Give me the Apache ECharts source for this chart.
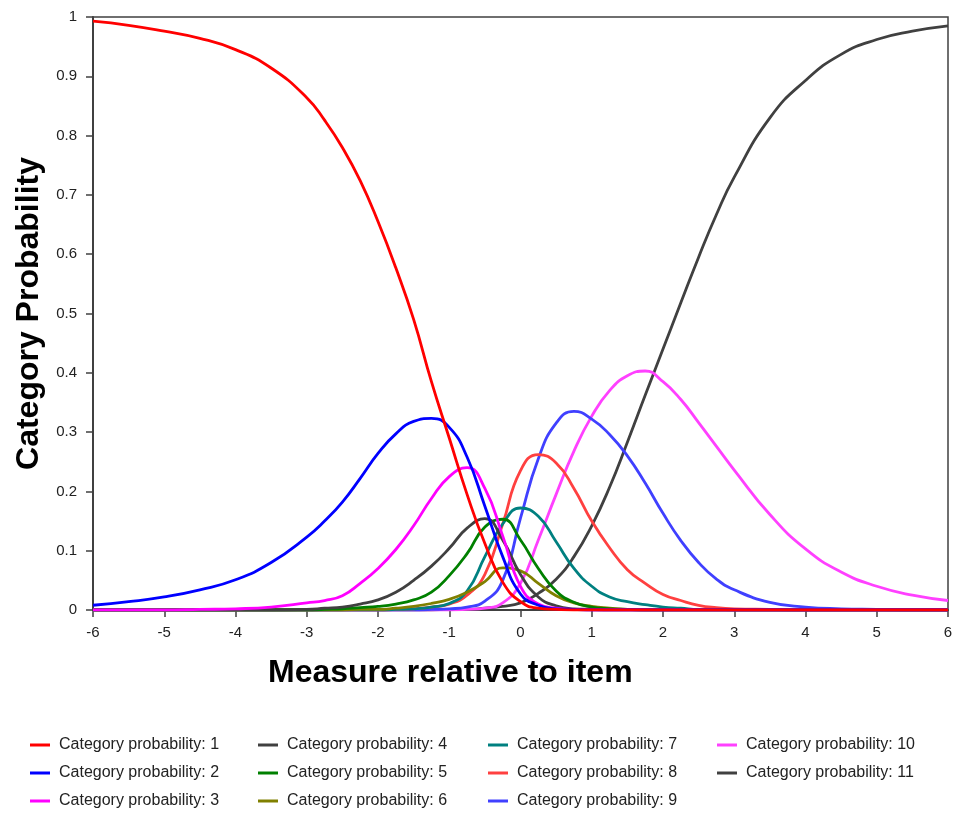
<!DOCTYPE html>
<html>
<head>
<meta charset="utf-8">
<script src="https://cdn.jsdelivr.net/npm/echarts@6/dist/echarts.min.js"></script>
<style>html,body{margin:0;padding:0;background:#fff}#c{width:958px;height:816px}</style>
</head>
<body>
<div id="c"></div>
<script>
var xs = [-6,-5.5,-5,-4.5,-4,-3.5,-3,-2.75,-2.5,-2.25,-2,-1.75,-1.5,-1.25,-1,-0.75,-0.5,-0.25,0,0.25,0.5,0.75,1,1.25,1.5,1.75,2,2.25,2.5,2.75,3,3.5,4,4.5,5,5.5,6];
var cat1 = [0.993,0.986,0.976,0.964,0.945,0.914,0.864,0.826,0.78,0.724,0.655,0.577,0.49,0.385,0.29,0.195,0.112,0.047,0.014,0.003,0.001,0,0,0,0,0,0,0,0,0,0,0,0,0,0,0,0];
var cat2 = [0.008,0.014,0.022,0.034,0.051,0.08,0.123,0.15,0.182,0.222,0.264,0.297,0.318,0.323,0.308,0.258,0.175,0.09,0.027,0.008,0.002,0.001,0,0,0,0,0,0,0,0,0,0,0,0,0,0,0];
var cat3 = [0,0,0,0.001,0.002,0.005,0.012,0.016,0.024,0.045,0.07,0.102,0.142,0.188,0.225,0.24,0.205,0.125,0.04,0.01,0.003,0.001,0,0,0,0,0,0,0,0,0,0,0,0,0,0,0];
var cat4 = [0,0,0,0,0,0,0.001,0.003,0.005,0.01,0.017,0.03,0.05,0.074,0.104,0.138,0.154,0.118,0.06,0.022,0.007,0.002,0.001,0,0,0,0,0,0,0,0,0,0,0,0,0,0];
var cat5 = [0,0,0,0,0,0,0,0.001,0.002,0.004,0.006,0.01,0.017,0.03,0.058,0.095,0.14,0.153,0.118,0.07,0.032,0.013,0.005,0.002,0.001,0,0,0,0,0,0,0,0,0,0,0,0];
var cat6 = [0,0,0,0,0,0,0,0,0,0.001,0.001,0.003,0.006,0.011,0.018,0.03,0.048,0.071,0.066,0.045,0.024,0.012,0.006,0.003,0.001,0,0,0,0,0,0,0,0,0,0,0,0];
var cat7 = [0,0,0,0,0,0,0,0,0,0,0,0.001,0.002,0.005,0.011,0.032,0.09,0.145,0.172,0.158,0.115,0.07,0.04,0.022,0.014,0.009,0.005,0.003,0.001,0.001,0,0,0,0,0,0,0];
var cat8 = [0,0,0,0,0,0,0,0,0,0,0,0.001,0.002,0.005,0.01,0.025,0.06,0.145,0.235,0.262,0.248,0.205,0.15,0.105,0.068,0.045,0.026,0.016,0.008,0.004,0.002,0.001,0,0,0,0,0];
var cat9 = [0,0,0,0,0,0,0,0,0,0,0,0,0,0.001,0.002,0.005,0.015,0.05,0.155,0.255,0.315,0.335,0.322,0.296,0.26,0.214,0.163,0.117,0.08,0.052,0.034,0.013,0.005,0.002,0.001,0,0];
var cat10 = [0,0,0,0,0,0,0,0,0,0,0,0,0,0,0,0.001,0.003,0.012,0.045,0.118,0.195,0.268,0.327,0.37,0.395,0.403,0.385,0.355,0.316,0.276,0.236,0.161,0.103,0.064,0.04,0.025,0.016];
var cat11 = [0,0,0,0,0,0,0,0,0,0,0,0,0,0,0.001,0.001,0.003,0.006,0.012,0.028,0.052,0.09,0.142,0.207,0.283,0.362,0.44,0.518,0.595,0.667,0.73,0.83,0.893,0.937,0.962,0.976,0.985];
var names = ['Category probability: 1','Category probability: 2','Category probability: 3','Category probability: 4','Category probability: 5','Category probability: 6','Category probability: 7','Category probability: 8','Category probability: 9','Category probability: 10','Category probability: 11'];
var colors = ['#ff0000','#0000ff','#ff00ff','#404040','#008000','#808000','#008080','#ff4040','#4040ff','#ff40ff','#404040'];
var allSeries = [cat1,cat2,cat3,cat4,cat5,cat6,cat7,cat8,cat9,cat10,cat11];

var chart = echarts.init(document.getElementById('c'), null, {renderer:'canvas'});
var font = 'Liberation Sans, Arial, sans-serif';
var series = allSeries.map(function(vals, i){
  return {
    name: names[i], type: 'line', smooth: 0.5, showSymbol: false, symbol: 'none',
    data: xs.map(function(x, j){ return [x, vals[j]]; }),
    lineStyle: {color: colors[i], width: 2.8}, itemStyle: {color: colors[i]},
    z: 20 - i, animation: false
  };
});
series.reverse();
function legendCol(left, idxs){
  return {
    orient: 'vertical', left: left, top: 736, padding: 0, itemGap: 10, itemWidth: 20, itemHeight: 3,
    icon: 'rect', selectedMode: false,
    data: idxs.map(function(k){ return {name: names[k], icon: 'rect'}; }),
    textStyle: {fontFamily: font, fontSize: 16, color: '#222', lineHeight: 18, padding: [0,0,0,4]}
  };
}
chart.setOption({
  animation: false,
  backgroundColor: '#fff',
  grid: {left: 93, right: 10, top: 17, bottom: 206, show: true, borderColor: '#404040', borderWidth: 1.5, backgroundColor: 'transparent'},
  xAxis: {
    type: 'value', min: -6, max: 6, interval: 1,
    axisLine: {show: true, onZero: false, lineStyle: {color: '#404040', width: 2}},
    axisTick: {show: true, length: 7, lineStyle: {color: '#404040', width: 1.5}},
    axisLabel: {fontFamily: font, fontSize: 15, color: '#222', margin: 15},
    splitLine: {show: false}
  },
  yAxis: {
    type: 'value', min: 0, max: 1, interval: 0.1,
    name: 'Category Probability', nameLocation: 'middle', nameGap: 47, nameRotate: 90,
    nameTextStyle: {fontFamily: font, fontSize: 32, fontWeight: 'bold', color: '#000'},
    axisLine: {show: true, onZero: false, lineStyle: {color: '#404040', width: 2}},
    axisTick: {show: true, length: 7, lineStyle: {color: '#404040', width: 1.5}},
    axisLabel: {fontFamily: font, fontSize: 15, color: '#222', margin: 16},
    splitLine: {show: false}
  },
  legend: [legendCol(30, [0,1,2]), legendCol(258, [3,4,5]), legendCol(488, [6,7,8]), legendCol(717, [9,10])],
  graphic: [{
    type: 'text', left: 268, top: 657,
    style: {text: 'Measure relative to item', fontFamily: font, fontSize: 32, fontWeight: 'bold', fill: '#000'}
  }],
  series: series
});
</script>
</body>
</html>
